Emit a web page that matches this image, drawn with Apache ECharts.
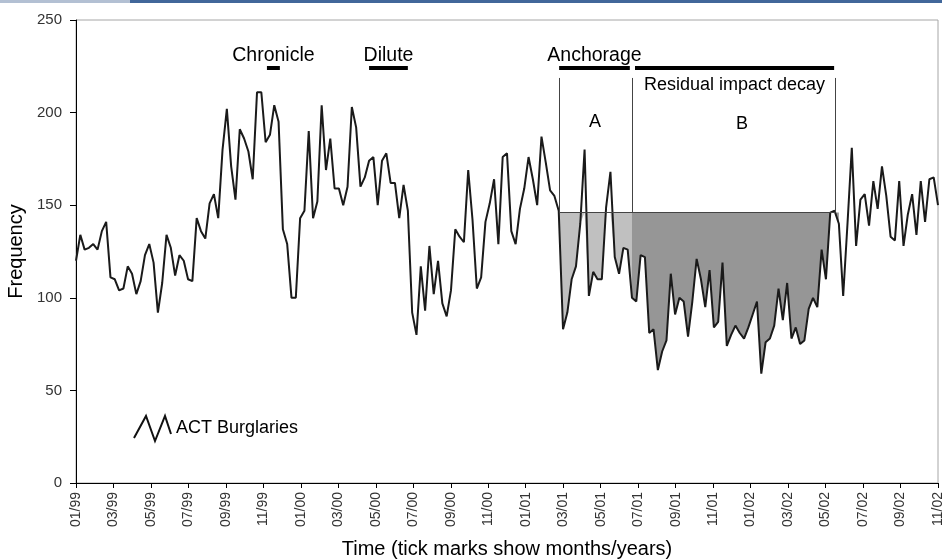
<!DOCTYPE html>
<html>
<head>
<meta charset="utf-8">
<script src="https://cdn.jsdelivr.net/npm/echarts@6/dist/echarts.min.js"></script>
<style>
  html, body { margin: 0; padding: 0; background: #fff; }
  #chart { width: 942px; height: 560px; }
</style>
</head>
<body>
<div id="chart"></div>
<script>
// weekly counts, 01/99 .. 11/02
const burglaries = [
  120, 134, 126, 127, 129, 126, 136, 141, 111, 110,
  104, 105, 117, 113, 102, 109, 123, 129, 119, 92,
  108, 134, 127, 112, 123, 120, 110, 109, 143, 136,
  132, 151, 156, 143, 180, 202, 171, 153, 191, 186,
  179, 164, 211, 211, 184, 188, 204, 195, 137, 129,
  100, 100, 143, 147, 190, 143, 152, 204, 169, 186,
  159, 159, 150, 160, 203, 192, 160, 165, 174, 176,
  150, 174, 178, 162, 162, 143, 161, 147, 92, 80,
  117, 93, 128, 102, 120, 97, 90, 104, 137, 133,
  130, 169, 142, 105, 111, 141, 151, 164, 129, 176,
  178, 136, 129, 148, 159, 176, 164, 150, 187, 173,
  158, 155, 147, 83, 92, 110, 117, 140, 180, 101,
  114, 110, 110, 149, 168, 122, 113, 127, 126, 100,
  98, 123, 122, 81, 83, 61, 71, 77, 113, 91,
  100, 98, 79, 98, 121, 110, 95, 115, 84, 87,
  119, 74, 80, 85, 81, 78, 84, 91, 98, 59,
  76, 78, 85, 105, 88, 108, 78, 84, 75, 77,
  94, 100, 95, 126, 110, 146, 147, 140, 101, 140,
  181, 128, 153, 156, 139, 163, 148, 171, 155, 133,
  131, 163, 128, 145, 156, 134, 163, 141, 164, 165,
  150
];

const monthLabels = [
  '01/99', '03/99', '05/99', '07/99', '09/99', '11/99',
  '01/00', '03/00', '05/00', '07/00', '09/00', '11/00',
  '01/01', '03/01', '05/01', '07/01', '09/01', '11/01',
  '01/02', '03/02', '05/02', '07/02', '09/02', '11/02'
];
const yTicks = [0, 50, 100, 150, 200, 250];

// intervention periods (in weeks from 01/99)
const eventNames = ['Chronicle', 'Dilute', 'Anchorage', 'Residual impact decay'];
const eventStart = [44.3, 68.0, 112.1, 129.7];
const eventEnd = [47.3, 77.0, 128.5, 175.9];

// shaded periods A and B, and the baseline they are measured from
const shadeNames = ['A', 'B'];
const shadeStart = [112.1, 129];
const shadeEnd = [129, 176.1];
const baseline = 146;

const FONT = '"Liberation Sans", Arial, sans-serif';
const nWeeks = burglaries.length - 1;
const barLevel = 224;
const guideTop = 218.7;

const mainData = burglaries.map((v, i) => [i, v]);

function shadeData(k) {
  const out = [];
  burglaries.forEach((v, i) => {
    if (i >= Math.floor(shadeStart[k]) && i <= Math.ceil(shadeEnd[k])) {
      out.push([i, Math.min(v, baseline)]);
    }
  });
  return out;
}

const shadeColors = ['#c0c0c0', '#969696'];

const eventLines = eventNames.map((name, k) => [
  {
    coord: [eventStart[k], barLevel],
    label: {
      show: true,
      formatter: name,
      position: k === 3 ? 'insideMiddleBottom' : 'insideMiddleTop',
      distance: k === 3 ? 8 : 3,
      fontSize: k === 3 ? 18 : 19.5,
      color: '#000',
      fontFamily: FONT
    }
  },
  { coord: [eventEnd[k], barLevel] }
]);

const guideLines = [shadeStart[0], shadeEnd[0], shadeEnd[1]].map(x => [
  { coord: [x, baseline] },
  { coord: [x, guideTop] }
]);
guideLines.push([{ coord: [shadeStart[0], baseline] }, { coord: [shadeEnd[1], baseline] }]);

const shadeSeries = shadeNames.map((name, k) => ({
  name: 'shade' + name,
  type: 'line',
  xAxisIndex: 0,
  data: shadeData(k),
  symbol: 'none',
  lineStyle: { width: 0, opacity: 0 },
  areaStyle: { origin: baseline, color: shadeColors[k], opacity: 1 },
  silent: true,
  z: 1,
  markPoint: {
    symbol: 'circle',
    symbolSize: 1,
    itemStyle: { color: 'transparent' },
    label: { show: true, position: 'inside', formatter: name, fontSize: 18, color: '#000', fontFamily: FONT },
    data: [{ coord: [k === 0 ? 120.4 : 154.5, k === 0 ? 195 : 194] }]
  }
}));

const chart = echarts.init(document.getElementById('chart'));
chart.setOption({
  animation: false,
  backgroundColor: '#fff',
  graphic: [
    { type: 'rect', left: 0, top: 0, shape: { width: 130, height: 3 }, style: { fill: '#b3c0d3' } },
    { type: 'rect', left: 130, top: 0, shape: { width: 812, height: 3 }, style: { fill: '#41679a' } }
  ],
  grid: {
    left: 76, right: 4, top: 20, bottom: 77,
    containLabel: false, outerBoundsMode: 'none',
    show: true, borderColor: '#a6a6a6', borderWidth: 1
  },
  legend: {
    data: ['ACT Burglaries'],
    left: 128, top: 410,
    icon: 'path://M0,22L12,0L21,25L31,0L37,18',
    itemWidth: 37, itemHeight: 25, itemGap: 4,
    itemStyle: { color: 'transparent', borderColor: '#111', borderWidth: 2 },
    lineStyle: { opacity: 0 },
    textStyle: { fontSize: 18, color: '#000', fontFamily: FONT },
    selectedMode: false
  },
  xAxis: [
    { type: 'value', min: 0, max: nWeeks, show: false },
    {
      type: 'value', min: 0, max: 46, interval: 2, position: 'bottom',
      name: 'Time (tick marks show months/years)',
      nameLocation: 'middle', nameGap: 56,
      nameTextStyle: { fontSize: 20, color: '#000', fontFamily: FONT },
      axisLine: { show: true, lineStyle: { color: '#000', width: 1 } },
      axisTick: { show: true, length: 5, lineStyle: { color: '#000' } },
      splitLine: { show: false },
      axisLabel: {
        rotate: 90, margin: 9, fontSize: 14, color: '#333', fontFamily: FONT,
        formatter: v => monthLabels[Math.round(v / 2)]
      }
    }
  ],
  yAxis: {
    type: 'value', min: yTicks[0], max: yTicks[yTicks.length - 1], interval: 50,
    name: 'Frequency', nameLocation: 'middle', nameGap: 47,
    nameTextStyle: { fontSize: 20, color: '#000', fontFamily: FONT },
    axisLine: { show: true, lineStyle: { color: '#000', width: 1 } },
    axisTick: { show: true, length: 6, lineStyle: { color: '#000' } },
    splitLine: { show: false },
    axisLabel: { margin: 14, fontSize: 15, color: '#333', fontFamily: FONT }
  },
  series: [
    ...shadeSeries,
    {
      name: 'ACT Burglaries',
      type: 'line',
      xAxisIndex: 0,
      data: mainData,
      symbol: 'none',
      z: 3,
      lineStyle: { color: '#1a1a1a', width: 2 },
      itemStyle: { color: '#1a1a1a' },
      markLine: {
        silent: true,
        symbol: 'none',
        data: [
          ...guideLines.map(l => [
            { ...l[0], lineStyle: { color: '#444', width: 1, type: 'solid' }, label: { show: false } },
            l[1]
          ]),
          ...eventLines.map(l => [
            { ...l[0], lineStyle: { color: '#000', width: 4, type: 'solid' } },
            l[1]
          ])
        ]
      }
    }
  ]
});
</script>
</body>
</html>
